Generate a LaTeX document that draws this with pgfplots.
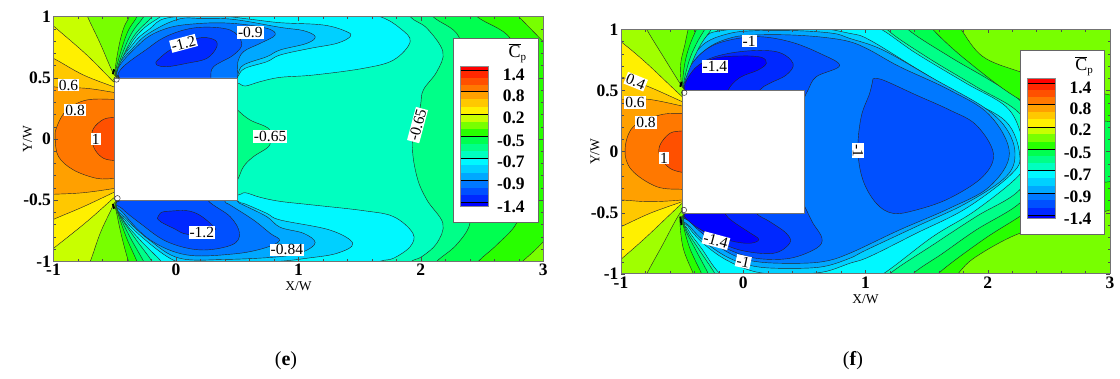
\documentclass[border=0pt]{standalone}
\usepackage{fontspec}
\setmainfont{Liberation Serif}
\usepackage{pgfplots}
\pgfplotsset{compat=1.18}
\definecolor{b0}{HTML}{FF0000}\definecolor{b1}{HTML}{FF2800}\definecolor{b2}{HTML}{FF5000}
\definecolor{b3}{HTML}{FF7800}\definecolor{b4}{HTML}{FFA000}\definecolor{b5}{HTML}{FFC800}
\definecolor{b6}{HTML}{FFF000}\definecolor{b7}{HTML}{C8FF00}\definecolor{b8}{HTML}{A0FF00}
\definecolor{b9}{HTML}{78FF00}\definecolor{b10}{HTML}{28FF00}\definecolor{b11}{HTML}{00FF50}
\definecolor{b12}{HTML}{00FF88}\definecolor{b13}{HTML}{00FFC0}\definecolor{b14}{HTML}{00F8FF}
\definecolor{b15}{HTML}{00D0FF}\definecolor{b16}{HTML}{00A8FF}\definecolor{b17}{HTML}{0078FF}
\definecolor{b18}{HTML}{0050FF}\definecolor{b19}{HTML}{0028FF}\definecolor{b20}{HTML}{0000FF}
\newcommand{\reg}[2]{\addplot[fill=#1,draw=black!85,line width=.42pt,smooth,tension=.6,forget plot] coordinates {#2};}
\newcommand{\bnd}[3]{\addplot[fill=#1,draw=none,sharp plot,forget plot] coordinates {(2.32,#2)(2.55,#2)(2.55,#3)(2.32,#3)};}
\newcommand{\bln}[1]{\addplot[black,line width=.6pt,sharp plot,forget plot] coordinates {(2.32,#1)(2.55,#1)};}
\newcommand{\lbl}[2]{\node[anchor=east,inner sep=0pt,font=\fontsize{17.5}{17.5}\selectfont\bfseries] at (axis cs:2.85,#2) {#1};}
\newcommand{\clab}[4]{\node[fill=white,inner sep=1pt,rotate=#4,font=\fontsize{15.5}{15.5}\selectfont] at (axis cs:#1,#2) {#3};}
\newcommand{\body}{\addplot[fill=white,draw=black!55,line width=.6pt,sharp plot,forget plot] coordinates {(-.5,-.5)(.5,-.5)(.5,.5)(-.5,.5)(-.5,-.5)};}
\newcommand{\legendbox}{%
\addplot[fill=white,draw=black!60,line width=.8pt,sharp plot,forget plot] coordinates {(2.266,.825)(2.958,.825)(2.958,-.678)(2.266,-.678)(2.266,.825)};
\bnd{b0}{.597}{.559}\bnd{b1}{.559}{.502}\bnd{b2}{.502}{.445}\bnd{b3}{.445}{.387}\bnd{b4}{.387}{.325}
\bnd{b5}{.325}{.264}\bnd{b6}{.264}{.202}\bnd{b7}{.202}{.142}\bnd{b9}{.142}{.082}\bnd{b10}{.082}{.022}
\bnd{b11}{.022}{-.037}\bnd{b12}{-.037}{-.096}\bnd{b13}{-.096}{-.155}\bnd{b14}{-.155}{-.216}
\bnd{b15}{-.216}{-.277}\bnd{b16}{-.277}{-.338}\bnd{b17}{-.338}{-.398}\bnd{b18}{-.398}{-.458}
\bnd{b19}{-.458}{-.518}\bnd{b20}{-.518}{-.548}
\bln{.559}\bln{.387}\bln{.202}\bln{.022}\bln{-.155}\bln{-.338}\bln{-.518}
\addplot[draw=black!45,line width=.5pt,sharp plot,forget plot] coordinates {(2.32,.597)(2.55,.597)(2.55,-.548)(2.32,-.548)(2.32,.597)};
\lbl{1.4}{.523}\lbl{0.8}{.351}\lbl{0.2}{.177}\lbl{-0.5}{-.011}\lbl{-0.7}{-.188}\lbl{-0.9}{-.368}\lbl{-1.4}{-.553}
\node[inner sep=0pt,font=\fontsize{18}{18}\selectfont] at (axis cs:2.79,.70) {$\overline{\mbox{C}}_{\mbox{\fontsize{11}{11}\selectfont p}}$};
}
\pgfplotsset{cfd/.style={
  scale only axis, xmin=-1,xmax=3,ymin=-1,ymax=1,
  axis on top, axis line style={draw=black!55,line width=1pt},
  xtick={-1,0,1,2,3}, ytick={-1,-.5,0,.5,1},
  minor x tick num=4, minor y tick num=4,
  tick align=inside, major tick length=4pt, minor tick length=2.5pt,
  tick style={black!70,line width=.4pt},
  /pgf/number format/assume math mode=true,
  tick label style={font=\fontsize{17.5}{17.5}\selectfont\bfseries},
  xticklabel style={yshift=1pt}, yticklabel style={xshift=1pt},
  xlabel={X/W}, ylabel={Y/W},
  every axis x label/.style={at={(axis description cs:0.5,0)},anchor=center,yshift=-25pt,font=\fontsize{13.5}{13.5}\selectfont},
  every axis y label/.style={at={(axis description cs:0,0.5)},anchor=center,rotate=90,yshift=26pt,font=\fontsize{13.5}{13.5}\selectfont},
}}
\begin{document}
\begin{tikzpicture}[x=1pt,y=1pt]
\path[use as bounding box] (0,0) rectangle (1120,378);
\begin{axis}[cfd,at={(53.5pt,116.7pt)},anchor=south west,width=489.8pt,height=244.6pt,axis background/.style={fill=b13}]
% --- right side, high levels
\reg{b12}{(1.85,1.15)(1.913,1.0)(2.05,.905)(2.18,.714)(2.13,.55)(2.02,.4)(1.995,.264)(1.932,-.035)(1.968,-.308)(2.05,-.499)(2.18,-.69)(2.13,-.853)(2.008,-.962)(1.913,-1.01)(1.85,-1.15)(3.3,-1.15)(3.3,1.15)}
\reg{b11}{(2.0,1.15)(2.10,1.0)(2.31,.837)(2.35,.5)(2.35,0)(2.35,-.5)(2.40,-.69)(2.29,-.866)(2.13,-1.0)(2.0,-1.15)(3.3,-1.15)(3.3,1.15)}
\reg{b10}{(2.35,1.15)(2.46,1.0)(2.73,.823)(2.8,.5)(2.8,-.5)(2.78,-.69)(2.62,-.866)(2.47,-1.0)(2.35,-1.15)(3.3,-1.15)(3.3,1.15)}
\reg{b9}{(2.7,1.1)(2.80,1.0)(3.0,.796)(3.2,.6)(3.3,1.3)}
\reg{b9}{(2.7,-1.1)(2.83,-1.0)(3.0,-.84)(3.2,-.6)(3.3,-1.3)}
\reg{b12}{(.45,.3)(.503,.237)(.606,.155)(.756,.087)(.77,.01)(.756,-.063)(.633,-.144)(.552,-.226)(.503,-.335)(.45,-.4)}
% --- upper blue islands
\reg{b14}{(0,.4)(-.49,.51)(-.375,.766)(-.266,.902)(-.13,.997)(0,1.08)(1,1.08)(1.4,1.05)(1.668,1.0)(1.831,.905)(1.913,.796)(1.777,.646)(1.532,.578)(1.123,.523)(.851,.504)(.688,.469)(.565,.433)(.503,.455)(.45,.4)}
\reg{b15}{(0,.4)(-.485,.52)(-.348,.779)(-.212,.902)(-.075,.989)(.3,1.01)(.6,.98)(.851,.951)(1.205,.932)(1.396,.877)(1.423,.837)(1.314,.782)(1.096,.741)(.851,.687)(.742,.632)(.565,.578)(.508,.515)(.45,.4)}
\reg{b16}{(0,.4)(-.48,.52)(-.32,.779)(-.157,.902)(.033,.983)(.198,.986)(.47,.978)(.851,.913)(1.042,.886)(1.137,.837)(1.069,.782)(.851,.728)(.742,.673)(.552,.605)(.503,.523)(.45,.4)}
\reg{b17}{(0,.4)(-.475,.51)(-.292,.782)(-.074,.905)(.198,.945)(.47,.945)(.742,.905)(.81,.85)(.688,.782)(.552,.714)(.503,.619)(.503,.5)(.45,.4)}
\reg{b18}{(0,.4)(-.47,.51)(-.21,.755)(-.02,.864)(.198,.913)(.443,.891)(.538,.782)(.47,.687)(.307,.591)(.285,.501)(.28,.4)}
\reg{b19}{(-.162,.632)(-.047,.728)(.171,.823)(.307,.815)(.334,.755)(.252,.659)(.089,.619)(-.074,.591)(-.156,.605)(-.162,.632)}
% --- lower blue islands
\reg{b14}{(0,-.4)(-.49,-.51)(-.43,-.662)(-.293,-.826)(-.143,-.976)(-.103,-1.02)(0,-1.08)(1.5,-1.08)(1.668,-1.0)(1.777,-.975)(1.913,-.88)(1.935,-.771)(1.777,-.635)(1.532,-.586)(1.123,-.54)(.851,-.51)(.688,-.477)(.565,-.439)(.508,-.458)(.45,-.4)}
\reg{b15}{(0,-.4)(-.485,-.52)(-.416,-.662)(-.266,-.812)(-.048,-.976)(.115,-1.02)(.5,-1.02)(.851,-1.0)(1.069,-.975)(1.314,-.935)(1.444,-.853)(1.256,-.744)(.851,-.662)(.742,-.608)(.565,-.531)(.508,-.51)(.45,-.4)}
\reg{b16}{(0,-.4)(-.48,-.52)(-.402,-.657)(-.212,-.83)(.03,-.975)(.4,-.985)(.851,-.962)(1.042,-.921)(1.137,-.847)(1.042,-.771)(.851,-.722)(.742,-.635)(.552,-.54)(.503,-.51)(.45,-.4)}
\reg{b17}{(0,-.4)(-.475,-.51)(-.428,-.608)(-.21,-.826)(.089,-.948)(.47,-.94)(.715,-.894)(.846,-.831)(.769,-.771)(.633,-.662)(.443,-.54)(.4,-.51)(.38,-.4)}
\reg{b18}{(0,-.4)(-.47,-.51)(-.442,-.567)(-.292,-.689)(-.074,-.839)(.198,-.907)(.456,-.866)(.519,-.771)(.443,-.635)(.266,-.507)(.25,-.4)}
\reg{b19}{(-.152,-.649)(-.12,-.6)(-.048,-.59)(.088,-.586)(.19,-.62)(.29,-.7)(.31,-.75)(.1,-.78)(-.02,-.73)(-.12,-.68)(-.152,-.649)}
% --- left side, high levels
\reg{b12}{(-.45,.47)(-.49,.53)(-.388,.766)(-.307,.888)(-.198,.997)(-.15,1.1)(-1.2,1.2)(-1.2,-1.2)(-.15,-1.1)(-.198,-.997)(-.334,-.812)(-.443,-.649)(-.49,-.53)(-.45,-.47)}
\reg{b11}{(-.45,.47)(-.49,.53)(-.416,.752)(-.348,.888)(-.266,.997)(-.22,1.1)(-1.2,1.2)(-1.2,-1.2)(-.22,-1.1)(-.266,-.997)(-.37,-.812)(-.457,-.635)(-.49,-.53)(-.45,-.47)}
\reg{b10}{(-.45,.47)(-.495,.53)(-.443,.738)(-.389,.888)(-.32,.997)(-.28,1.1)(-1.2,1.2)(-1.2,-1.2)(-.28,-1.1)(-.32,-.997)(-.402,-.812)(-.47,-.621)(-.495,-.53)(-.45,-.47)}
\reg{b9}{(-.45,.47)(-.497,.53)(-.47,.738)(-.429,.902)(-.383,.997)(-.35,1.1)(-1.2,1.2)(-1.2,-1.2)(-.35,-1.1)(-.389,-.997)(-.443,-.798)(-.484,-.608)(-.497,-.53)(-.45,-.47)}
\reg{b7}{(-.45,.47)(-.5,.52)(-.537,.591)(-.619,.782)(-.722,1.0)(-.76,1.1)(-1.2,1.2)(-1.2,-1.2)(-.76,-1.1)(-.7,-1.0)(-.619,-.771)(-.53,-.58)(-.5,-.52)(-.45,-.47)}
\reg{b6}{(-.45,.43)(-.496,.455)(-.728,.687)(-1,.924)(-1.2,1.1)(-1.3,0)(-1.2,-1.05)(-1,-.894)(-.728,-.676)(-.496,-.471)(-.45,-.44)}
\reg{b5}{(-.45,.4)(-.496,.422)(-.755,.523)(-1,.659)(-1.2,.75)(-1.3,0)(-1.2,-.75)(-1,-.657)(-.755,-.553)(-.496,-.431)(-.45,-.41)}
\reg{b4}{(-.45,.37)(-.496,.379)(-.728,.414)(-.96,.422)(-1.2,.43)(-1.3,0)(-1.2,-.46)(-1,-.452)(-.755,-.439)(-.496,-.403)(-.45,-.39)}
\reg{b3}{(-.45,.322)(-.496,.324)(-.728,.319)(-.891,.237)(-.973,.1)(-.986,0)(-.959,-.144)(-.837,-.253)(-.646,-.322)(-.496,-.322)(-.45,-.322)}
\reg{b2}{(-.45,.178)(-.496,.177)(-.591,.161)(-.673,.087)(-.687,0)(-.66,-.09)(-.591,-.158)(-.496,-.177)(-.45,-.178)}
\addplot[black,line width=2pt,forget plot] coordinates {(-.515,.53)(-.505,.57)};
\addplot[black,line width=2pt,forget plot] coordinates {(-.515,-.53)(-.505,-.57)};
\body
\addplot[only marks,mark=o,mark size=2.8pt,mark options={draw=black!80,fill=white,line width=.5pt},forget plot] coordinates {(-.486,.487)(-.478,-.485)};
\legendbox
\clab{.062}{.782}{-1.2}{15}
\clab{.607}{.872}{-0.9}{0}
\clab{-.877}{.441}{0.6}{0}
\clab{-.823}{.237}{0.8}{0}
\clab{-.654}{0}{1}{0}
\clab{.769}{.019}{-0.65}{0}
\clab{1.973}{.114}{-0.65}{75}
\clab{.211}{-.763}{-1.2}{0}
\clab{.906}{-.907}{-0.84}{0}
\end{axis}
\begin{axis}[cfd,at={(621pt,104pt)},anchor=south west,width=489pt,height=244.7pt,axis background/.style={fill=b13}]
% --- right side
\reg{b12}{(1.1,1.15)(1.175,1.0)(1.496,.777)(1.905,.531)(2.26,.313)(2.42,0)(2.26,-.313)(1.905,-.531)(1.55,-.763)(1.197,-1.0)(1.1,-1.15)(3.3,-1.15)(3.3,1.15)}
\reg{b11}{(1.25,1.15)(1.346,1.0)(1.687,.777)(2.014,.586)(2.26,.422)(2.4,.2)(2.4,-.2)(2.26,-.422)(1.905,-.64)(1.632,-.831)(1.387,-1.0)(1.3,-1.15)(3.3,-1.15)(3.3,1.15)}
\reg{b10}{(1.45,1.15)(1.55,1.0)(1.823,.749)(2.246,.436)(2.6,.3)(3,.245)(3.3,.2)(3.3,1.3)}
\reg{b10}{(1.5,-1.15)(1.592,-1.0)(1.96,-.722)(2.26,-.531)(2.6,-.3)(3,-.245)(3.3,-.2)(3.3,-1.3)}
\reg{b9}{(1.7,1.15)(1.782,1.0)(1.96,.777)(2.26,.654)(2.6,.55)(3,.463)(3.3,.4)(3.3,1.3)}
\reg{b9}{(1.65,-1.15)(1.755,-1.0)(1.905,-.858)(2.26,-.668)(2.6,-.6)(3,-.477)(3.3,-.4)(3.3,-1.3)}
% --- blue body of the flow
\reg{b14}{(0,.4)(-.49,.51)(-.382,.763)(-.3,.899)(-.192,1.002)(0,1.1)(.9,1.1)(1.129,1.0)(1.414,.804)(1.823,.559)(2.15,.368)(2.27,.15)(2.285,-.014)(2.27,-.177)(1.905,-.477)(1.55,-.695)(1.142,-1.0)(.9,-1.1)(0,-1.1)(-.192,-.995)(-.342,-.79)(-.45,-.64)(-.49,-.51)(0,-.4)}
\reg{b15}{(0,.4)(-.485,.52)(-.341,.899)(-.137,.995)(.5,1.02)(.87,.967)(1.033,.913)(1.414,.681)(1.823,.436)(2.15,.245)(2.26,-.014)(2.2,-.177)(1.823,-.463)(1.414,-.668)(1.033,-.858)(.87,-.913)(.652,-.984)(.38,-1.0)(.108,-.984)(-.137,-.886)(-.328,-.749)(-.45,-.613)(-.485,-.52)(0,-.4)}
\reg{b16}{(0,.4)(-.48,.52)(-.442,.722)(-.314,.886)(-.11,.967)(.108,.989)(.435,.989)(.734,.967)(.87,.926)(1.142,.831)(1.55,.6)(1.96,.368)(2.15,.191)(2.223,-.014)(2.15,-.204)(1.823,-.422)(1.414,-.613)(1.006,-.804)(.87,-.872)(.652,-.94)(.38,-.954)(.108,-.94)(-.11,-.872)(-.3,-.749)(-.436,-.613)(-.48,-.52)(0,-.4)}
\reg{b17}{(0,.4)(-.475,.51)(-.423,.708)(-.273,.858)(-.083,.935)(.108,.954)(.38,.954)(.652,.935)(.87,.899)(1.033,.831)(1.278,.695)(1.687,.504)(2.014,.3)(2.177,-.014)(2.014,-.286)(1.687,-.463)(1.278,-.64)(.87,-.831)(.652,-.899)(.38,-.913)(.108,-.899)(-.083,-.845)(-.273,-.722)(-.409,-.586)(-.475,-.51)(0,-.4)}
\reg{b18}{(1.061,.594)(1.142,.586)(1.414,.463)(1.687,.341)(1.905,.218)(2.046,-.014)(1.96,-.204)(1.687,-.381)(1.414,-.477)(1.224,-.504)(1.088,-.422)(.979,-.232)(.938,.014)(.965,.286)(1.034,.477)(1.061,.594)}
\reg{b18}{(0,.4)(-.47,.51)(-.45,.668)(-.328,.817)(-.164,.899)(.108,.94)(.38,.899)(.625,.804)(.788,.703)(.598,.613)(.53,.504)(.48,.4)}
\reg{b19}{(0,.4)(-.47,.51)(-.436,.613)(-.3,.749)(-.028,.817)(.271,.817)(.407,.722)(.353,.627)(.217,.559)(.135,.504)(.1,.4)}
\reg{b20}{(-.3,.4)(-.48,.5)(-.396,.681)(-.233,.763)(-.015,.782)(.148,.771)(.189,.722)(.121,.667)(-.029,.605)(-.124,.504)(-.13,.4)}
\reg{b18}{(0,-.4)(-.47,-.51)(-.436,-.572)(-.3,-.695)(-.11,-.804)(.108,-.872)(.38,-.872)(.598,-.79)(.644,-.708)(.571,-.586)(.53,-.504)(.48,-.4)}
\reg{b19}{(0,-.4)(-.47,-.51)(-.436,-.559)(-.246,-.708)(-.028,-.804)(.244,-.831)(.38,-.749)(.353,-.668)(.217,-.572)(.108,-.504)(.08,-.4)}
\reg{b20}{(-.3,-.4)(-.48,-.5)(-.423,-.586)(-.287,-.668)(-.097,-.73)(.053,-.749)(.127,-.717)(.04,-.654)(-.083,-.572)(-.151,-.504)(-.16,-.4)}
% --- left side
\reg{b12}{(-.45,.47)(-.49,.53)(-.41,.749)(-.342,.885)(-.26,1.002)(-.22,1.1)(-1.2,1.2)(-1.2,-1.2)(-.19,-1.1)(-.233,-.995)(-.369,-.79)(-.464,-.64)(-.49,-.53)(-.45,-.47)}
\reg{b11}{(-.45,.47)(-.49,.53)(-.445,.735)(-.382,.885)(-.314,1.002)(-.27,1.1)(-1.2,1.2)(-1.2,-1.2)(-.24,-1.1)(-.287,-.995)(-.396,-.79)(-.478,-.627)(-.49,-.53)(-.45,-.47)}
\reg{b10}{(-.45,.47)(-.495,.53)(-.478,.722)(-.437,.872)(-.382,1.002)(-.34,1.1)(-1.2,1.2)(-1.2,-1.2)(-.3,-1.1)(-.342,-.995)(-.437,-.79)(-.491,-.6)(-.495,-.53)(-.45,-.47)}
\reg{b9}{(-.45,.47)(-.5,.53)(-.513,.708)(-.478,.872)(-.45,1.002)(-.42,1.1)(-1.2,1.2)(-1.2,-1.2)(-.37,-1.1)(-.41,-.995)(-.491,-.79)(-.518,-.572)(-.5,-.53)(-.45,-.47)}
\reg{b8}{(-.45,.47)(-.5,.531)(-.654,.777)(-.79,1.0)(-.83,1.1)(-1.2,1.2)(-1.2,-1.2)(-.83,-1.1)(-.79,-1.0)(-.668,-.777)(-.518,-.504)(-.45,-.47)}
\reg{b6}{(-.45,.43)(-.5,.45)(-.79,.722)(-1,.899)(-1.2,1.05)(-1.3,0)(-1.2,-1.05)(-1,-.88)(-.79,-.695)(-.5,-.422)(-.45,-.4)}
\reg{b5}{(-.45,.39)(-.5,.409)(-.763,.526)(-1,.613)(-1.2,.7)(-1.3,0)(-1.2,-.7)(-1,-.613)(-.763,-.504)(-.5,-.409)(-.45,-.39)}
\reg{b4}{(-.45,.36)(-.5,.373)(-.777,.428)(-1,.428)(-1.2,.43)(-1.3,0)(-1.2,-.39)(-1,-.395)(-.763,-.409)(-.5,-.395)(-.45,-.38)}
\reg{b3}{(-.45,.313)(-.5,.313)(-.681,.3)(-.899,.204)(-.967,.014)(-.913,-.15)(-.709,-.286)(-.5,-.308)(-.45,-.308)}
\reg{b2}{(-.45,.17)(-.5,.169)(-.6,.15)(-.681,.054)(-.681,-.041)(-.6,-.136)(-.5,-.169)(-.45,-.17)}
\addplot[black,line width=2pt,forget plot] coordinates {(-.515,.53)(-.505,.57)};
\addplot[black,line width=2pt,forget plot] coordinates {(-.515,-.53)(-.505,-.6)};
\body
\addplot[only marks,mark=o,mark size=2.8pt,mark options={draw=black!80,fill=white,line width=.5pt},forget plot] coordinates {(-.483,.482)(-.486,-.477)};
\legendbox
\clab{.048}{.905}{-1}{0}
\clab{-.232}{.695}{-1.4}{0}
\clab{-.88}{.572}{0.4}{-22}
\clab{-.886}{.403}{0.6}{0}
\clab{-.796}{.237}{0.8}{0}
\clab{-.649}{-.054}{1}{0}
\clab{.938}{.008}{-1}{-90}
\clab{-.224}{-.728}{-1.4}{-15}
\clab{.0}{-.899}{-1}{-12}
\end{axis}
\node[font=\fontsize{20}{20}\selectfont] at (286,17) {(\textbf{e})};
\node[font=\fontsize{20}{20}\selectfont] at (853,17) {(\textbf{f})};
\end{tikzpicture}
\end{document}
